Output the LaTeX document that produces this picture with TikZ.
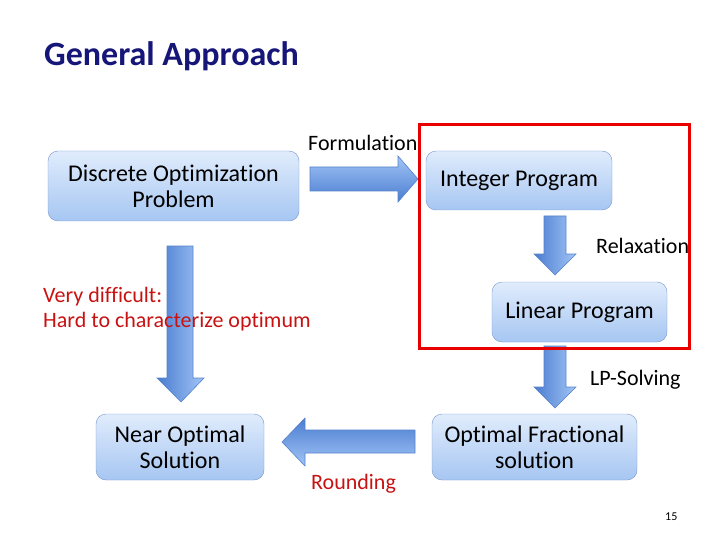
\documentclass[tikz,border=0pt]{standalone}
\usepackage{fontspec}
\setmainfont{Carlito}[Ligatures=CommonOff]
\usepackage{xcolor}
\usepackage{tikz}
\usetikzlibrary{positioning}
\definecolor{titleblue}{RGB}{22,22,120}
\definecolor{boxtop}{RGB}{224,236,252}
\definecolor{boxbot}{RGB}{166,198,242}
\definecolor{boxline}{RGB}{120,150,204}
\definecolor{arrlight}{RGB}{162,197,246}
\definecolor{arrdark}{RGB}{74,124,208}
\definecolor{arrline}{RGB}{86,130,202}
\definecolor{hardred}{RGB}{200,18,18}
\definecolor{framered}{RGB}{232,0,0}
\tikzset{
    boxnode/.style = {draw=boxline, rectangle, rounded corners=10pt, top color=boxtop, bottom color=boxbot,
      inner sep = 0em, align=center, font=\fontsize{24}{26}\selectfont},
    textnode/.style  = {draw=none, fill=none, rectangle, inner sep = 0em, anchor=base west,
      font=\fontsize{22}{26}\selectfont},
    redtextnode/.style = {textnode, text=hardred},
    framenode/.style = {draw=framered, line width=3pt, rectangle, inner sep = 0em},
    hblock/.style = {draw=arrline, line width=0.6pt, top color=arrlight, bottom color=arrdark},
    hblockrev/.style = {draw=arrline, line width=0.6pt, top color=arrdark, bottom color=arrlight},
    vblock/.style = {draw=arrline, line width=0.6pt, left color=arrdark, right color=arrlight}
}
\begin{document}
\begin{tikzpicture}[x=1pt, y=1pt]
    \useasboundingbox (0,0) rectangle (720,-540);

    \node [name=title, textnode, font=\fontsize{34}{38}\selectfont\bfseries, text=titleblue] at (44,-66) {General Approach};

    % boxes
    \node [name=dop, boxnode, minimum width=251pt, minimum height=70pt] at (173.5,-186) {Discrete Optimization\\Problem};
    \node [name=ip, boxnode, minimum width=186pt, minimum height=59pt] at (519,-180.5) {Integer Program};
    \node [name=lp, boxnode, minimum width=175pt, minimum height=60pt] at (579.5,-312) {Linear Program};
    \node [name=ofs, boxnode, minimum width=205pt, minimum height=66pt] at (534.5,-447) {Optimal Fractional\\solution};
    \node [name=nos, boxnode, minimum width=168pt, minimum height=66pt] at (180,-447) {Near Optimal\\Solution};

    % block arrows
    \draw [hblock] (310,-167) -- (398,-167) -- (398,-156) -- (418,-179) -- (398,-202) -- (398,-191) -- (310,-191) -- cycle;
    \draw [vblock] (544,-216) -- (566,-216) -- (566,-254) -- (576,-254) -- (555,-275) -- (534,-254) -- (544,-254) -- cycle;
    \draw [vblock] (544,-346) -- (566,-346) -- (566,-387) -- (576,-387) -- (555,-408) -- (534,-387) -- (544,-387) -- cycle;
    \draw [vblock] (167,-246) -- (193,-246) -- (193,-378) -- (204,-378) -- (181,-402) -- (157,-378) -- (167,-378) -- cycle;
    \draw [hblockrev] (415,-430) -- (305,-430) -- (305,-418) -- (282,-442) -- (305,-466) -- (305,-453) -- (415,-453) -- cycle;

    % frame round the integer and linear programs
    \node [name=frame, framenode, minimum width=270pt, minimum height=223pt] at (554,-236.5) {};

    % labels
    \node [name=formulation, textnode] at (308,-151) {Formulation};
    \node [name=relaxation, textnode] at (596,-254) {Relaxation};
    \node [name=lpsolving, textnode] at (590,-385) {LP-Solving};
    \node [name=rounding, redtextnode] at (311,-489) {Rounding};
    \node [name=hard1, redtextnode] at (43,-302) {Very difficult:};
    \node [name=hard2, redtextnode] at (43,-327) {Hard to characterize optimum};
    \node [name=page, textnode, font=\fontsize{12}{14}\selectfont] at (665,-520) {15};
\end{tikzpicture}
\end{document}
